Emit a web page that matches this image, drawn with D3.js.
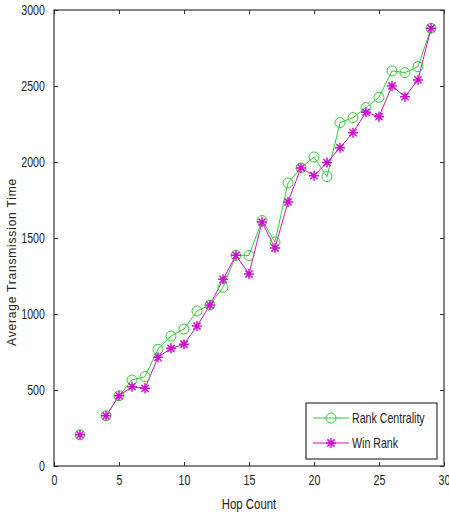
<!DOCTYPE html>
<html>
<head>
<meta charset="utf-8">
<script src="https://cdn.jsdelivr.net/npm/d3@7"></script>
<style>
  body { margin: 0; background: #fff; }
  text { font-family: "Liberation Sans", Arial, sans-serif; fill: #222; }
</style>
</head>
<body>
<div id="graphicContainer"></div>
<script>
// hop counts (3 has no value, line breaks there)
var hops = [2, 3, 4, 5, 6, 7, 8, 9, 10, 11, 12, 13, 14, 15, 16, 17, 18, 19, 20, 21, 22, 23, 24, 25, 26, 27, 28, 29];
var rankCentrality = [205, null, 330, 462, 566, 588, 768, 855, 901, 1020, 1059, 1176, 1386, 1385, 1615, 1474, 1862, 1961, 2033, 1904, 2259, 2292, 2358, 2426, 2599, 2588, 2627, 2880];
var winRank = [205, null, 330, 462, 522, 511, 715, 774, 801, 921, 1059, 1228, 1386, 1263, 1605, 1434, 1737, 1961, 1910, 1996, 2094, 2193, 2327, 2298, 2500, 2430, 2540, 2880];
var seriesNames = ["Rank Centrality", "Win Rank"];
var xTicks = [0, 5, 10, 15, 20, 25, 30];
var yTicks = [0, 500, 1000, 1500, 2000, 2500, 3000];

var width = 449, height = 513;
var margin = {top: 10, right: 5, bottom: 47, left: 54};
var w = width - margin.left - margin.right, h = height - margin.top - margin.bottom;

var svg = d3.select("#graphicContainer").append("svg")
  .attr("width", width).attr("height", height);
var g = svg.append("g").attr("transform", "translate(" + margin.left + "," + margin.top + ")");

var x = d3.scaleLinear().domain([0, 30]).range([0, w]);
var y = d3.scaleLinear().domain([0, 3000]).range([h, 0]);

var green = "#33cc33", magenta = "#cc11cc";
var axisColor = "#333";
var narrow = "scale(0.76,1)";

// axes, ticks point inward like matlab
function styleAxis(sel) {
  sel.select(".domain").remove();
  sel.selectAll(".tick line").attr("stroke", axisColor);
  sel.selectAll(".tick text").style("font-size", "14px").attr("fill", "#222").attr("transform", narrow);
}
g.append("g").attr("transform", "translate(0," + h + ")")
  .call(d3.axisBottom(x).tickValues(xTicks).tickSizeInner(-4).tickSizeOuter(0).tickPadding(9).tickFormat(d3.format("d")))
  .call(styleAxis);
g.append("g")
  .call(d3.axisLeft(y).tickValues(yTicks).tickSizeInner(-4).tickSizeOuter(0).tickPadding(12).tickFormat(d3.format("d")))
  .call(styleAxis);
g.append("g")
  .call(d3.axisTop(x).tickValues(xTicks).tickSizeInner(-4).tickSizeOuter(0).tickFormat(""))
  .call(styleAxis);
g.append("g").attr("transform", "translate(" + w + ",0)")
  .call(d3.axisRight(y).tickValues(yTicks).tickSizeInner(-4).tickSizeOuter(0).tickFormat(""))
  .call(styleAxis);
g.append("rect").attr("width", w).attr("height", h)
  .attr("fill", "none").attr("stroke", axisColor).attr("stroke-width", 1.2);

// axis titles
svg.append("text").attr("transform", "translate(" + (margin.left + w / 2) + "," + (margin.top + h + 43) + ") " + narrow)
  .attr("text-anchor", "middle").style("font-size", "15px").text("Hop Count");
svg.append("text").attr("transform", "translate(16,262) rotate(-90)").attr("text-anchor", "middle")
  .style("font-size", "12px").style("letter-spacing", "0.8px").text("Average Transmission Time");

var data = hops.map(function (d, i) {
  return {hop: d, rc: rankCentrality[i], wr: winRank[i]};
});

function lineFor(key) {
  return d3.line().defined(function (d) { return d[key] != null; })
    .x(function (d) { return x(d.hop); }).y(function (d) { return y(d[key]); });
}

g.append("path").datum(data).attr("d", lineFor("rc"))
  .attr("fill", "none").attr("stroke", green).attr("stroke-width", 1);
g.append("path").datum(data).attr("d", lineFor("wr"))
  .attr("fill", "none").attr("stroke", magenta).attr("stroke-width", 1);

var valid = data.filter(function (d) { return d.rc != null; });

g.selectAll(".rc").data(valid).enter().append("circle").attr("class", "rc")
  .attr("cx", function (d) { return x(d.hop); }).attr("cy", function (d) { return y(d.rc); })
  .attr("r", 5).attr("fill", "none").attr("stroke", green).attr("stroke-width", 1);

// matlab style '*' marker: plus and cross together
var starPath = "M-5,0L5,0M0,-5L0,5M-3.6,-3.6L3.6,3.6M-3.6,3.6L3.6,-3.6";
g.selectAll(".wr").data(valid).enter().append("path").attr("class", "wr")
  .attr("transform", function (d) { return "translate(" + x(d.hop) + "," + y(d.wr) + ")"; })
  .attr("d", starPath).attr("fill", "none").attr("stroke", magenta).attr("stroke-width", 1.5);

// legend
var lg = svg.append("g").attr("transform", "translate(306,403)");
lg.append("rect").attr("width", 131).attr("height", 56)
  .attr("fill", "#fff").attr("stroke", axisColor).attr("stroke-width", 1.2);
[0, 1].forEach(function (i) {
  var yy = i === 0 ? 15 : 40;
  var col = i === 0 ? green : magenta;
  lg.append("line").attr("x1", 7).attr("x2", 43).attr("y1", yy).attr("y2", yy)
    .attr("stroke", col).attr("stroke-width", 1);
  if (i === 0) {
    lg.append("circle").attr("cx", 25).attr("cy", yy).attr("r", 5)
      .attr("fill", "none").attr("stroke", col);
  } else {
    lg.append("path").attr("transform", "translate(25," + yy + ")").attr("d", starPath)
      .attr("fill", "none").attr("stroke", col).attr("stroke-width", 1.5);
  }
  lg.append("text").attr("transform", "translate(46," + (yy + 5) + ") " + narrow)
    .style("font-size", "14px").text(seriesNames[i]);
});
</script>
</body>
</html>
